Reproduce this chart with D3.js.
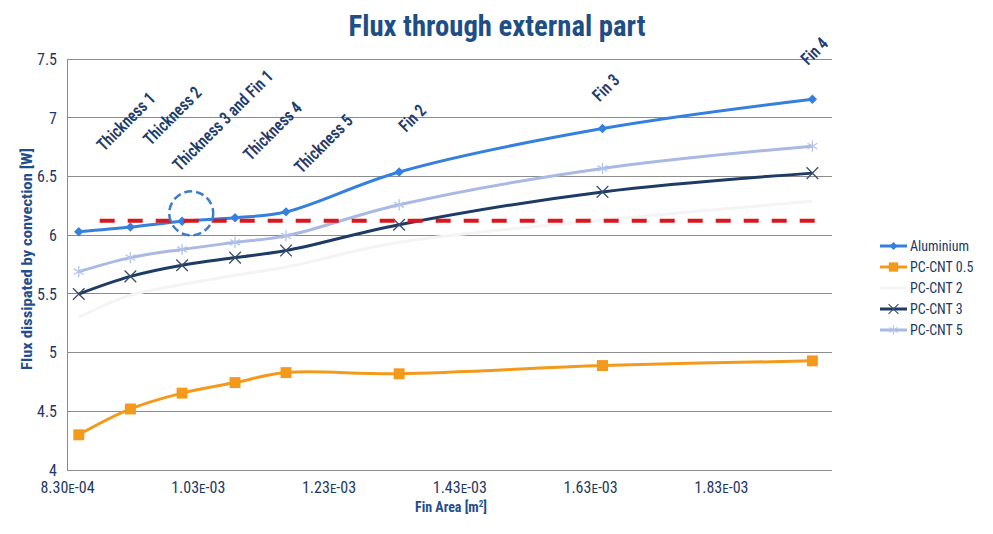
<!DOCTYPE html>
<html>
<head>
<meta charset="utf-8">
<script src="https://cdn.jsdelivr.net/npm/d3@7"></script>
<style>
  body { margin: 0; background: #fff; }
  text { font-family: "Liberation Sans Narrow", "Roboto Condensed", "DejaVu Sans Condensed", Roboto, sans-serif; }
</style>
</head>
<body>
<svg id="chart" width="993" height="534"></svg>
<script>
// fin area (m2) for each design
const finArea = [0.000848, 0.000927, 0.001006, 0.001087, 0.001165, 0.001338, 0.001649, 0.00197];

const aluminium = [6.03, 6.07, 6.12, 6.15, 6.20, 6.54, 6.91, 7.16];
const pcCnt05  = [4.30, 4.52, 4.655, 4.745, 4.83, 4.82, 4.89, 4.93];
const pcCnt2   = [5.30, 5.49, 5.58, 5.66, 5.73, 5.94, 6.13, 6.29];
const pcCnt3   = [5.50, 5.65, 5.745, 5.81, 5.87, 6.09, 6.37, 6.53];
const pcCnt5   = [5.69, 5.81, 5.88, 5.94, 5.995, 6.26, 6.57, 6.76];

const seriesNames = ["Aluminium", "PC-CNT 0.5", "PC-CNT 2", "PC-CNT 3", "PC-CNT 5"];
const seriesColors = ["#3580de", "#f39a1c", "#f4f4f7", "#1d3b64", "#a9b9e4"];
const markerColors = ["#3580de", "#f39a1c", "#f4f4f7", "#3a4d6c", "#b4c3ea"];
const seriesMarkers = ["diamond", "square", "none", "times", "asterisk"];

const yTicks = [4, 4.5, 5, 5.5, 6, 6.5, 7, 7.5];
const xTicks = [0.00083, 0.00103, 0.00123, 0.00143, 0.00163, 0.00183];
const xTickLabels = ["8.30E-04", "1.03E-03", "1.23E-03", "1.43E-03", "1.63E-03", "1.83E-03"];

// design labels (centre positions in data units)
const designLabels = ["Thickness 1", "Thickness 2", "Thickness 3 and Fin 1", "Thickness 4", "Thickness 5", "Fin 2", "Fin 3", "Fin 4"];
const labelX = [0.000920, 0.000991, 0.001068, 0.001144, 0.001222, 0.001358, 0.001654, 0.001973];
const labelY = [6.97, 7.02, 6.98, 6.89, 6.78, 7.00, 7.26, 7.57];

// reference threshold (dashed red) and highlight circle
const refLevel = 6.125;
const refFrom = 0.00088, refTo = 0.001976;
const circleX = 0.00102, circleY = 6.187;

const svg = d3.select("#chart");
const x = d3.scaleLinear().domain([0.00083, 0.002]).range([67, 832]);
const y = d3.scaleLinear().domain([4, 7.5]).range([470, 59.3]);

// gridlines
svg.append("g").selectAll("line").data(yTicks).join("line")
  .attr("x1", x(0.00083)).attr("x2", x(0.002))
  .attr("y1", d => y(d)).attr("y2", d => y(d))
  .attr("stroke", "#8c8c8c").attr("stroke-width", 1).attr("shape-rendering", "crispEdges");
svg.append("line").attr("x1", x(0.00083)).attr("x2", x(0.00083)).attr("y1", y(7.5)).attr("y2", y(4))
  .attr("stroke", "#8c8c8c").attr("stroke-width", 1).attr("shape-rendering", "crispEdges");

// y axis labels
const yAxis = svg.append("g").attr("transform", `translate(${x(0.00083)},0)`)
  .call(d3.axisLeft(y).tickValues(yTicks).tickSize(0).tickPadding(10).tickFormat(d3.format("")));
yAxis.select(".domain").remove();
yAxis.selectAll("text").attr("font-size", 16).attr("fill", "#1f3864");

// x axis labels
const xAxis = svg.append("g").attr("transform", `translate(0,${y(4)})`)
  .call(d3.axisBottom(x).tickValues(xTicks).tickSize(0).tickPadding(12).tickFormat((d, i) => xTickLabels[i]));
xAxis.select(".domain").remove();
xAxis.selectAll("text").attr("font-size", 16).attr("fill", "#1f3864")
  .each(function(d, i) {
    const t = d3.select(this), parts = xTickLabels[i].split("E");
    t.text(null);
    t.append("tspan").text(parts[0]);
    t.append("tspan").attr("font-size", 13).text("E");
    t.append("tspan").text(parts[1]);
  });

// title and axis titles
svg.append("text").attr("x", 497).attr("y", 36).attr("text-anchor", "middle")
  .attr("font-size", 29).attr("font-weight", "bold").attr("fill", "#1f4e85")
  .attr("textLength", 297).attr("lengthAdjust", "spacingAndGlyphs")
  .text("Flux through external part");
svg.append("text").attr("transform", "translate(32,259) rotate(-90)").attr("text-anchor", "middle")
  .attr("font-size", 14).attr("font-weight", "bold").attr("fill", "#1f4e8c")
  .attr("textLength", 222).attr("lengthAdjust", "spacingAndGlyphs")
  .text("Flux dissipated by convection [W]");
const xt = svg.append("text").attr("x", 451).attr("y", 512).attr("text-anchor", "middle")
  .attr("font-size", 14).attr("font-weight", "bold").attr("fill", "#1f4e8c");
xt.append("tspan").text("Fin Area [m");
xt.append("tspan").attr("font-size", 9).attr("dy", -5).text("2");
xt.append("tspan").attr("dy", 5).text("]");

// series
const seriesData = [aluminium, pcCnt05, pcCnt2, pcCnt3, pcCnt5];
const line = d3.line().curve(d3.curveCatmullRom.alpha(0.5)).x((d, i) => x(finArea[i])).y(d => y(d));

const markerPath = {
  diamond: d3.symbol().type(d3.symbolSquare).size(44)(),
  square: d3.symbol().type(d3.symbolSquare).size(120)(),
  times: d3.symbol().type(d3.symbolTimes).size(90)(),
  asterisk: d3.symbol().type(d3.symbolAsterisk).size(90)()
};
function drawMarker(g, kind, color) {
  if (kind === "none") return;
  const filled = kind === "diamond" || kind === "square";
  g.append("path").attr("d", markerPath[kind])
    .attr("transform", kind === "diamond" ? "rotate(45)" : null)
    .attr("fill", filled ? color : "none")
    .attr("stroke", filled ? "none" : color).attr("stroke-width", 1.3);
}

const order = [2, 1, 3, 4, 0];
order.forEach(s => {
  const g = svg.append("g");
  g.append("path").datum(seriesData[s]).attr("d", line)
    .attr("fill", "none").attr("stroke", seriesColors[s]).attr("stroke-width", 3);
  seriesData[s].forEach((v, i) => {
    const m = g.append("g").attr("transform", `translate(${x(finArea[i])},${y(v)})`);
    drawMarker(m, seriesMarkers[s], markerColors[s]);
  });
});

// red reference line
svg.append("line").attr("x1", x(refFrom)).attr("x2", x(refTo)).attr("y1", y(refLevel)).attr("y2", y(refLevel))
  .attr("stroke", "#d9171e").attr("stroke-width", 4).attr("stroke-dasharray", "15,13");

// dashed highlight circle
svg.append("circle").attr("cx", x(circleX)).attr("cy", y(circleY)).attr("r", 22)
  .attr("fill", "none").attr("stroke", "#3d7cc8").attr("stroke-width", 2.5).attr("stroke-dasharray", "8,4");

// design labels
svg.append("g").selectAll("text").data(designLabels).join("text")
  .attr("transform", (d, i) => `translate(${x(labelX[i])},${y(labelY[i])}) rotate(-45)`)
  .attr("text-anchor", "middle").attr("dy", "0.35em")
  .attr("font-size", 17.5).attr("font-weight", 600).attr("fill", "#1f3d6b")
  .text(d => d)
  .each(function() {
    const w = this.getComputedTextLength();
    d3.select(this).attr("textLength", w * 0.88).attr("lengthAdjust", "spacingAndGlyphs");
  });

// legend
const legend = svg.append("g").attr("transform", "translate(880,246)");
seriesNames.forEach((name, s) => {
  const row = legend.append("g").attr("transform", `translate(0,${s * 21})`);
  row.append("line").attr("x1", 0).attr("x2", 27).attr("stroke", seriesColors[s]).attr("stroke-width", 3);
  const m = row.append("g").attr("transform", "translate(13.5,0) scale(0.85)");
  drawMarker(m, seriesMarkers[s], markerColors[s]);
  row.append("text").attr("x", 30).attr("dy", "0.35em").attr("font-size", 14)
    .attr("fill", "#1f3864").text(name);
});
</script>
</body>
</html>
